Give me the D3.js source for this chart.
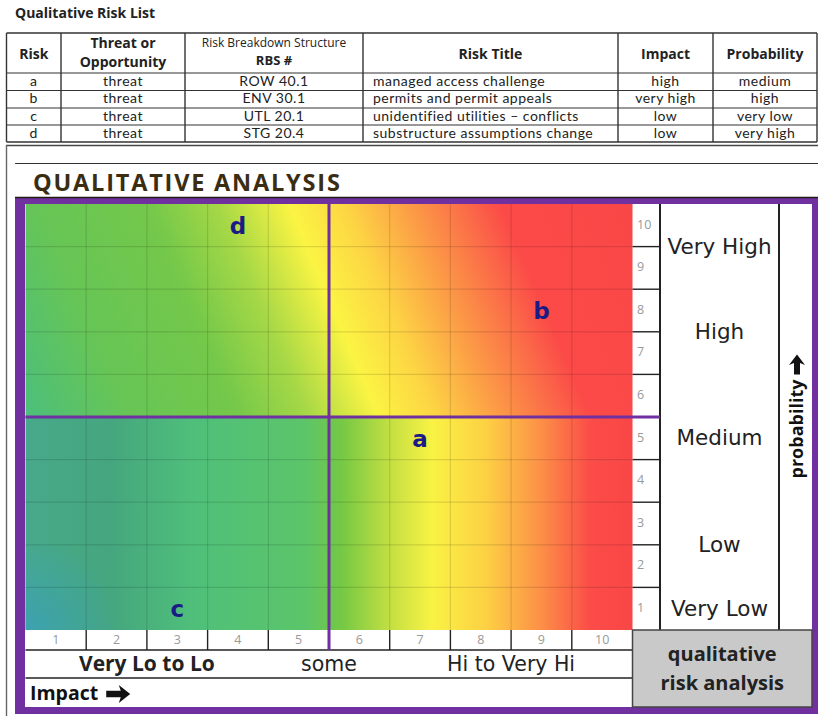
<!DOCTYPE html>
<html>
<head>
<meta charset="utf-8">
<script src="https://cdn.jsdelivr.net/npm/d3@7"></script>
<style>
  body { margin: 0; background: #fff; }
  svg { display: block; }
  text { font-family: "Open Sans", Lato, sans-serif; }
</style>
</head>
<body>
<div id="chart"></div>
<script>
// risk list data
const riskIds = ["a", "b", "c", "d"];
const riskTypes = ["threat", "threat", "threat", "threat"];
const rbsCodes = ["ROW 40.1", "ENV 30.1", "UTL 20.1", "STG 20.4"];
const riskTitles = [
  "managed access challenge",
  "permits and permit appeals",
  "unidentified utilities \u2013 conflicts",
  "substructure assumptions change",
];
const impactWords = ["high", "very high", "low", "low"];
const probabilityWords = ["medium", "high", "very low", "very high"];

// position of each risk on the 1..10 matrix
const impactScores = [7, 9, 3, 4];
const probabilityScores = [5, 8, 1, 10];

// axis labels
const scaleTicks = [1, 2, 3, 4, 5, 6, 7, 8, 9, 10];
const probBandLabels = ["Very High", "High", "Medium", "Low", "Very Low"];
const probBandCenters = [9.5, 7.5, 5, 2.5, 1];
const impactBandLabels = ["Very Lo to Lo", "some", "Hi to Very Hi"];
const impactBandCenters = [2.5, 5.5, 8.5];
const impactBandBold = [true, false, false];

const W = 818, H = 716;
const purple = "#7030a0";
const verdanaLike = "'DejaVu Sans', sans-serif";

const svg = d3.select("#chart").append("svg").attr("width", W).attr("height", H);

// heavy block arrow pointing right, starting at (0,0) centre-left
const arrowPath = (len, head, shaft) => {
  const hx = len - head * 1.05;
  return `M0,${-shaft}L${hx},${-shaft}L${hx - 2},${-head}L${len},0L${hx - 2},${head}L${hx},${shaft}L0,${shaft}Z`;
};

// ---------- risk list table ----------
svg.append("text")
  .attr("x", 15).attr("y", 18)
  .style("font-weight", "bold").style("font-size", "14px").style("fill", "#222")
  .text("Qualitative Risk List");

const colEdges = [6.5, 61, 185, 363, 618, 713, 817];
const rowEdges = [33, 73, 90.5, 108, 125, 142];
const tbl = svg.append("g");

tbl.selectAll(".hl").data(rowEdges).join("line")
  .attr("x1", colEdges[0]).attr("x2", colEdges[colEdges.length - 1])
  .attr("y1", (d) => d).attr("y2", (d) => d)
  .style("stroke", "#333").style("stroke-width", (d, i) => (i === 0 || i === rowEdges.length - 1 ? 1.6 : 1.1));
tbl.selectAll(".vl").data(colEdges).join("line")
  .attr("x1", (d) => d).attr("x2", (d) => d)
  .attr("y1", rowEdges[0]).attr("y2", rowEdges[rowEdges.length - 1])
  .style("stroke", "#333").style("stroke-width", 1.4);

const colMid = (i) => (colEdges[i] + colEdges[i + 1]) / 2;
const headTxt = (x, y, t, size, bold) =>
  tbl.append("text").attr("x", x).attr("y", y)
    .attr("text-anchor", "middle").attr("dominant-baseline", "middle")
    .style("font-size", size + "px").style("font-weight", bold ? "bold" : "normal")
    .style("fill", "#222").text(t);

headTxt(colMid(0), 55, "Risk", 14, true);
headTxt(colMid(1), 44, "Threat or", 14, true);
headTxt(colMid(1), 63, "Opportunity", 14, true);
headTxt(colMid(2), 44, "Risk Breakdown Structure", 12, false);
headTxt(colMid(2), 62, "RBS #", 13, true);
headTxt(colMid(3), 55, "Risk Title", 14, true);
headTxt(colMid(4), 55, "Impact", 14, true);
headTxt(colMid(5), 55, "Probability", 14, true);

riskIds.forEach((id, i) => {
  const y = (rowEdges[i + 1] + rowEdges[i + 2]) / 2 + 0.5;
  const cells = [id, riskTypes[i], rbsCodes[i], riskTitles[i], impactWords[i], probabilityWords[i]];
  cells.forEach((t, c) => {
    const left = c === 3;
    tbl.append("text")
      .attr("x", left ? colEdges[3] + 10 : colMid(c)).attr("y", y)
      .attr("text-anchor", left ? "start" : "middle").attr("dominant-baseline", "middle")
      .style("font-family", "Lato, sans-serif").style("letter-spacing", "0.5px")
      .style("font-size", "14px").style("fill", "#222").text(t);
  });
});

// ---------- analysis frame ----------
svg.append("line").attr("x1", 6).attr("x2", W).attr("y1", 145.5).attr("y2", 145.5)
  .style("stroke", "#444").style("stroke-width", 1.4);
svg.append("line").attr("x1", 6.5).attr("x2", 6.5).attr("y1", 145).attr("y2", H)
  .style("stroke", "#666").style("stroke-width", 1.4);
svg.append("line").attr("x1", 15).attr("x2", W).attr("y1", 163.5).attr("y2", 163.5)
  .style("stroke", "#333").style("stroke-width", 1);

svg.append("text")
  .attr("x", 33).attr("y", 191)
  .style("font-weight", "bold").style("font-size", "23.5px").style("fill", "#3a2d12")
  .style("letter-spacing", "1.8px")
  .text("QUALITATIVE ANALYSIS");

// purple frame
svg.append("rect").attr("x", 15).attr("y", 197).attr("width", W - 15).attr("height", 517)
  .style("fill", purple);
svg.append("rect").attr("x", 25).attr("y", 204).attr("width", 812 - 25).attr("height", 707 - 204)
  .style("fill", "#fff");
svg.append("line").attr("x1", 15).attr("x2", W).attr("y1", 197.5).attr("y2", 197.5)
  .style("stroke", "#231a10").style("stroke-width", 1.6);

// ---------- matrix ----------
const x = d3.scaleLinear().domain([0.5, 10.5]).range([25.5, 632.5]);
const y = d3.scaleLinear().domain([0.5, 10.5]).range([630, 204]);

const defs = svg.append("defs");
const addStops = (grad, stops) =>
  grad.selectAll("stop").data(stops).join("stop")
    .attr("offset", (d) => d[0]).attr("stop-color", (d) => d[1]);

// upper half: diagonal blend
const gTop = defs.append("linearGradient").attr("id", "gTop")
  .attr("gradientUnits", "userSpaceOnUse")
  .attr("x1", 26).attr("y1", 417).attr("x2", 624).attr("y2", 163);
addStops(gTop, [
  [0, "#4cbf7c"], [0.14, "#66c556"], [0.3, "#74c84a"], [0.4, "#a6d846"],
  [0.5, "#fbf443"], [0.58, "#fdd544"], [0.66, "#fca246"], [0.75, "#fb6a48"],
  [0.8, "#fb4a48"], [1, "#f94747"],
]);
// lower half: left to right
const gBot = defs.append("linearGradient").attr("id", "gBot")
  .attr("gradientUnits", "userSpaceOnUse")
  .attr("x1", 25.5).attr("y1", 0).attr("x2", 632.5).attr("y2", 0);
addStops(gBot, [
  [0, "#47a98a"], [0.14, "#45a67e"], [0.28, "#4fc07a"], [0.46, "#5cc56a"],
  [0.52, "#74c844"], [0.6, "#c3df42"], [0.67, "#f9f244"], [0.76, "#fdd044"],
  [0.85, "#fc8f47"], [0.93, "#fb4c48"], [1, "#f94646"],
]);
const gCorner = defs.append("radialGradient").attr("id", "gCorner")
  .attr("gradientUnits", "userSpaceOnUse")
  .attr("cx", 25).attr("cy", 632).attr("r", 95);
addStops(gCorner, [[0, "#3aa0b8"], [1, "#3aa0b8"]]);
gCorner.selectAll("stop").attr("stop-opacity", (d, i) => (i ? 0 : 0.85));

const mat = svg.append("g");
mat.append("rect").attr("x", x(0.5)).attr("y", y(10.5))
  .attr("width", x(10.5) - x(0.5)).attr("height", y(5.5) - y(10.5))
  .style("fill", "url(#gTop)");
mat.append("rect").attr("x", x(0.5)).attr("y", y(5.5))
  .attr("width", x(10.5) - x(0.5)).attr("height", y(0.5) - y(5.5))
  .style("fill", "url(#gBot)");
mat.append("rect").attr("x", x(0.5)).attr("y", y(2.5))
  .attr("width", 120).attr("height", y(0.5) - y(2.5))
  .style("fill", "url(#gCorner)");

const inner = scaleTicks.slice(0, -1).map((k) => k + 0.5);
mat.selectAll(".gv").data(inner).join("line")
  .attr("x1", (d) => x(d)).attr("x2", (d) => x(d))
  .attr("y1", y(10.5)).attr("y2", y(0.5))
  .style("stroke", "#000").style("stroke-opacity", 0.12).style("stroke-width", 1.2);
mat.selectAll(".gh").data(inner).join("line")
  .attr("x1", x(0.5)).attr("x2", x(10.5))
  .attr("y1", (d) => y(d)).attr("y2", (d) => y(d))
  .style("stroke", "#000").style("stroke-opacity", 0.12).style("stroke-width", 1.2);

// risk letters
mat.selectAll(".risk").data(riskIds).join("text")
  .attr("x", (d, i) => x(impactScores[i]))
  .attr("y", (d, i) => y(probabilityScores[i]) + 2)
  .attr("text-anchor", "middle").attr("dominant-baseline", "middle")
  .style("font-family", verdanaLike)
  .style("font-size", "23px").style("font-weight", "bold").style("fill", "#1b1b86")
  .text((d) => d);

// ---------- probability scale (right) ----------
const colNumR = 660, colBandR = 779;
const right = svg.append("g");
right.selectAll(".pn").data(scaleTicks).join("text")
  .attr("x", 637).attr("y", (d) => y(d))
  .attr("dominant-baseline", "middle")
  .style("font-size", "12.5px").style("fill", "#999").text((d) => d);
right.selectAll(".pl").data(inner.filter((d) => d !== 5.5)).join("line")
  .attr("x1", x(10.5)).attr("x2", colNumR)
  .attr("y1", (d) => y(d)).attr("y2", (d) => y(d))
  .style("stroke", "#222").style("stroke-width", 1.4);
[colNumR, colBandR].forEach((cx) =>
  right.append("line").attr("x1", cx).attr("x2", cx).attr("y1", y(10.5)).attr("y2", y(0.5))
    .style("stroke", "#222").style("stroke-width", 2));
right.selectAll(".pb").data(probBandLabels).join("text")
  .attr("x", (colNumR + colBandR) / 2).attr("y", (d, i) => y(probBandCenters[i]) + 1)
  .attr("text-anchor", "middle").attr("dominant-baseline", "middle")
  .style("font-family", verdanaLike).style("font-size", "21.5px").style("fill", "#222")
  .text((d) => d);
const probLbl = right.append("text")
  .attr("transform", `translate(803,${y(5.5) + 12}) rotate(-90)`)
  .attr("text-anchor", "middle")
  .style("font-size", "18px").style("font-weight", "bold").style("fill", "#111")
  .text("probability");
const probLen = probLbl.node().getComputedTextLength();
right.append("path")
  .attr("transform", `translate(797,${y(5.5) + 12 - probLen / 2 - 5}) rotate(-90)`)
  .attr("d", arrowPath(20, 8, 3))
  .style("fill", "#111");

// ---------- impact scale (bottom) ----------
const bottom = svg.append("g");
const tickTop = y(0.5), tickBot = 650, bandBot = 678;
bottom.selectAll(".ix").data(scaleTicks).join("text")
  .attr("x", (d) => x(d)).attr("y", (tickTop + tickBot) / 2 + 1)
  .attr("text-anchor", "middle").attr("dominant-baseline", "middle")
  .style("font-size", "12.5px").style("fill", "#999").text((d) => d);
bottom.selectAll(".iv").data(inner.filter((d) => d !== 5.5)).join("line")
  .attr("x1", (d) => x(d)).attr("x2", (d) => x(d))
  .attr("y1", tickTop).attr("y2", tickBot)
  .style("stroke", "#222").style("stroke-width", 1.4);
[tickBot, bandBot].forEach((yy) =>
  bottom.append("line").attr("x1", x(0.5)).attr("x2", x(10.5)).attr("y1", yy).attr("y2", yy)
    .style("stroke", "#222").style("stroke-width", 1.6));
bottom.selectAll(".ib").data(impactBandLabels).join("text")
  .attr("x", (d, i) => x(impactBandCenters[i])).attr("y", (tickBot + bandBot) / 2 + 1)
  .attr("text-anchor", "middle").attr("dominant-baseline", "middle")
  .style("font-family", (d, i) => (impactBandBold[i] ? "'Open Sans', sans-serif" : verdanaLike))
  .style("font-size", (d, i) => (impactBandBold[i] ? "21px" : "20.5px"))
  .style("font-weight", (d, i) => (impactBandBold[i] ? "bold" : "normal"))
  .style("fill", "#222").text((d) => d);
const impLbl = bottom.append("text").attr("x", 30).attr("y", 695)
  .attr("dominant-baseline", "middle")
  .style("font-size", "19.5px").style("font-weight", "bold").style("fill", "#111")
  .text("Impact");
const impLen = impLbl.node().getComputedTextLength();
bottom.append("path")
  .attr("transform", `translate(${30 + impLen + 8},694)`)
  .attr("d", arrowPath(24, 9, 3.2))
  .style("fill", "#111");

// quadrant dividers
svg.append("line").attr("x1", x(5.5)).attr("x2", x(5.5)).attr("y1", y(10.5)).attr("y2", tickBot)
  .style("stroke", purple).style("stroke-width", 3);
svg.append("line").attr("x1", x(0.5)).attr("x2", colNumR).attr("y1", y(5.5)).attr("y2", y(5.5))
  .style("stroke", purple).style("stroke-width", 3);

// caption box
svg.append("rect").attr("x", x(10.5)).attr("y", tickTop).attr("width", 812 - x(10.5)).attr("height", 707 - tickTop)
  .style("fill", "#c9c9c9").style("stroke", "#444").style("stroke-width", 1.5);
svg.selectAll(".cap").data(["qualitative", "risk analysis"]).join("text")
  .attr("x", (x(10.5) + 812) / 2).attr("y", (d, i) => 656 + i * 29)
  .attr("text-anchor", "middle").attr("dominant-baseline", "middle")
  .style("font-size", "20px").style("font-weight", "bold").style("fill", "#222")
  .text((d) => d);
</script>
</body>
</html>
